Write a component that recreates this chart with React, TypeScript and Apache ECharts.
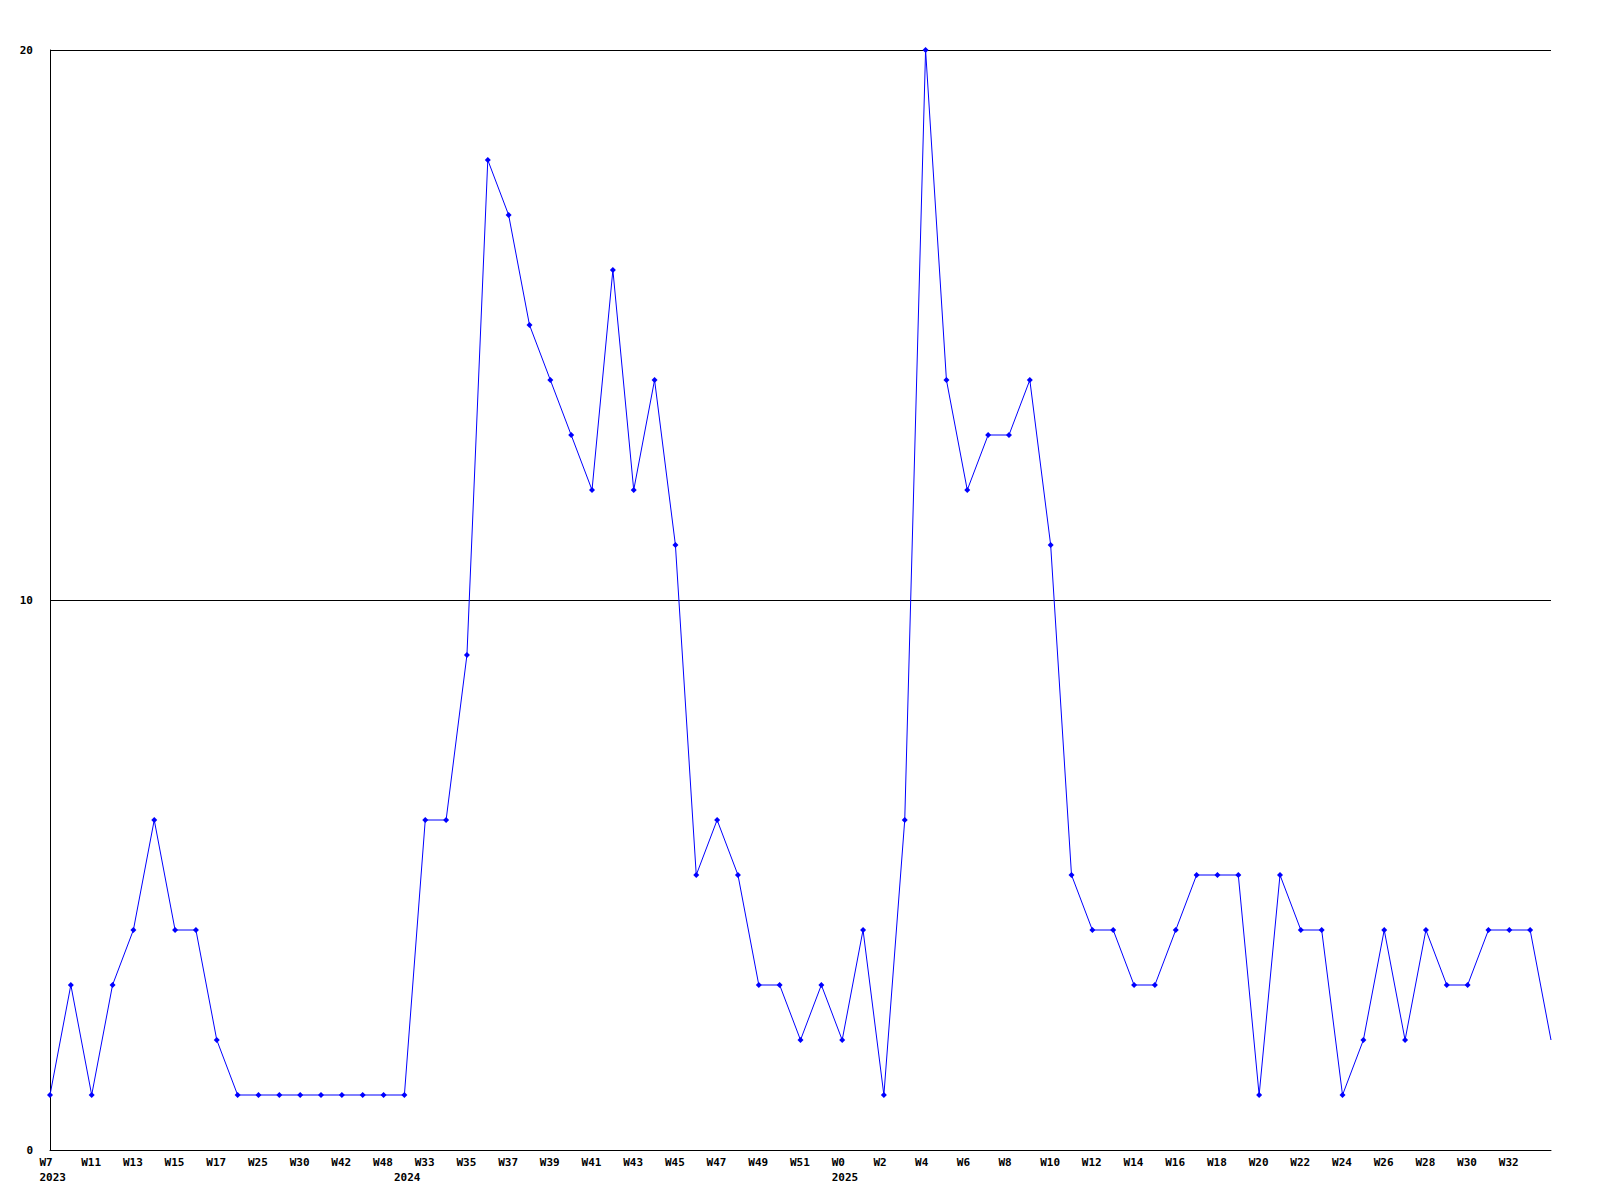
import React, { useEffect, useRef } from "react";
import * as echarts from "echarts";

// Week labels for each point (odd-index names are not displayed in the reference)
const weeks: string[] = [
  "W7", "W9", "W11", "W12", "W13", "W14", "W15", "W16", "W17", "W20",
  "W25", "W27", "W30", "W35", "W42", "W45", "W48", "W1", "W33", "W34",
  "W35", "W36", "W37", "W38", "W39", "W40", "W41", "W42", "W43", "W44",
  "W45", "W46", "W47", "W48", "W49", "W50", "W51", "W52", "W0", "W1",
  "W2", "W3", "W4", "W5", "W6", "W7", "W8", "W9", "W10", "W11",
  "W12", "W13", "W14", "W15", "W16", "W17", "W18", "W19", "W20", "W21",
  "W22", "W23", "W24", "W25", "W26", "W27", "W28", "W29", "W30", "W31",
  "W32", "W33", "W34",
];

const counts: number[] = [
  1, 3, 1, 3, 4, 6, 4, 4, 2, 1,
  1, 1, 1, 1, 1, 1, 1, 1, 6, 6,
  9, 18, 17, 15, 14, 13, 12, 16, 12, 14,
  11, 5, 6, 5, 3, 3, 2, 3, 2, 4,
  1, 6, 20, 14, 12, 13, 13, 14, 11, 5,
  4, 4, 3, 3, 4, 5, 5, 5, 1, 5,
  4, 4, 1, 2, 4, 2, 4, 3, 3, 4,
  4, 4, 2,
];

// Year markers: index of the first point of each year
const yearIndexes: number[] = [0, 17, 38];
const yearLabels: string[] = ["2023", "2024", "2025"];

const yTicks: number[] = [0, 10, 20];

export default function App() {
  const ref = useRef<HTMLDivElement>(null);

  useEffect(() => {
    if (!ref.current) return;
    const chart = echarts.init(ref.current, undefined, { renderer: "svg" });
    const font = "'DejaVu Sans Mono', monospace";
    const lastIdx = counts.length - 1;
    const data = counts.map((v, i) =>
      i === lastIdx ? { value: v, symbol: "none" } : v
    );
    chart.setOption({
      animation: false,
      backgroundColor: "#ffffff",
      grid: { left: 50, right: 49, top: 50, bottom: 50, containLabel: false },
      xAxis: {
        type: "category",
        data: weeks,
        boundaryGap: false,
        axisLine: { show: true, lineStyle: { color: "#000000", width: 1 } },
        axisTick: { show: false },
        splitLine: { show: false },
        axisLabel: {
          show: true,
          interval: (index: number) =>
            (index % 2 === 0 && index < lastIdx) || yearIndexes.includes(index),
          margin: 5,
          formatter: (value: string, index: number) => {
            const yi = yearIndexes.indexOf(index);
            const top = index % 2 === 0 ? value : " ";
            if (yi >= 0) return `{a|${top}}\n{a|${yearLabels[yi]}}`;
            return `{a|${top}}`;
          },
          rich: {
            a: {
              width: 21,
              align: "left",
              fontFamily: font,
              fontWeight: "bold",
              fontSize: 11,
              color: "#000000",
              lineHeight: 15,
            },
          },
        },
      },
      yAxis: {
        type: "value",
        min: yTicks[0],
        max: yTicks[yTicks.length - 1],
        interval: 10,
        axisLine: { show: true, lineStyle: { color: "#000000", width: 1 } },
        axisTick: { show: false },
        splitLine: { show: true, lineStyle: { color: "#000000", width: 1 } },
        axisLabel: {
          margin: 17,
          fontFamily: font,
          fontWeight: "bold",
          fontSize: 11,
          color: "#000000",
        },
      },
      series: [
        {
          type: "line",
          data,
          symbol: "diamond",
          symbolSize: 6,
          showAllSymbol: true,
          lineStyle: { color: "#0000ff", width: 1 },
          itemStyle: { color: "#0000ff", borderWidth: 0 },
          emphasis: { disabled: true },
        },
      ],
    });
    return () => chart.dispose();
  }, []);

  return (
    <div
      ref={ref}
      style={{ position: "fixed", left: 0, top: 0, width: 1600, height: 1200, background: "#fff" }}
    />
  );
}
